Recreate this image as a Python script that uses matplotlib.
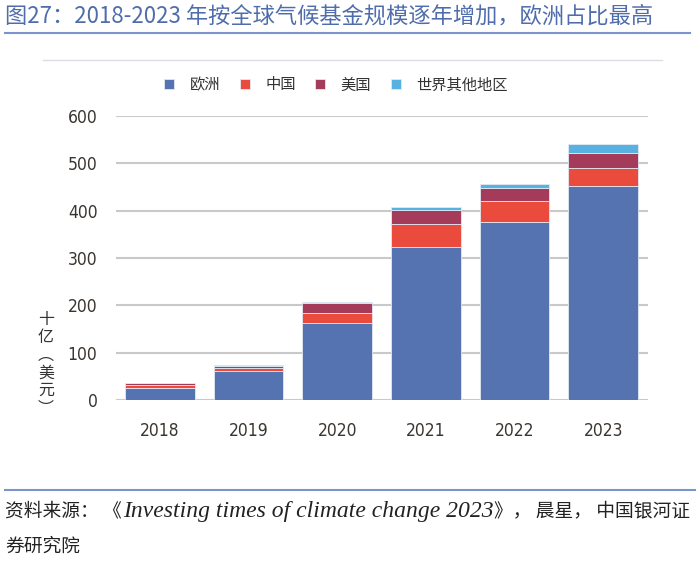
import matplotlib
matplotlib.use("Agg")
import matplotlib.pyplot as plt
import numpy as np
from matplotlib.lines import Line2D

plt.rcParams['font.family'] = ['Noto Sans CJK SC', 'DejaVu Sans']

years = ['2018', '2019', '2020', '2021', '2022', '2023']
europe = [26, 61, 163, 323, 376, 452]
china = [6, 6, 20, 48, 45, 39]
usa = [3, 5, 21, 31, 27, 31]
rest = [1, 2, 3, 5, 9, 19]
series_names = ['欧洲', '中国', '美国', '世界其他地区']
colors = ['#5673b1', '#ea4b3c', '#a43b5b', '#57b1e1']

fig = plt.figure(figsize=(7, 5.61), dpi=100)
ax = fig.add_axes([0.165, 0.287, 0.76, 0.506])

x = np.arange(len(years))
bottom = np.zeros(len(years))
for vals, name, c in zip([europe, china, usa, rest], series_names, colors):
    ax.bar(x, vals, width=0.785, bottom=bottom, color=c, label=name,
           edgecolor='#e3e8f2', linewidth=0.6, zorder=3)
    bottom += np.array(vals)

ax.set_xlim(-0.5, 5.5)
ax.set_ylim(0, 600)
ax.set_yticks(range(0, 601, 100))
ax.set_xticks(x)
ax.set_xticklabels(years)
ax.grid(axis='y', color='#c9c9c9', linewidth=1.5, zorder=0)
for s in ax.spines.values():
    s.set_visible(False)
ax.tick_params(length=0, colors='#3a3530', labelsize=12.5, pad=13)
ax.tick_params(axis='x', pad=16)
for lab in ax.get_xticklabels() + ax.get_yticklabels():
    lab.set_family('DejaVu Sans')
    lab.set_stretch('condensed')

# vertical y label
fig.text(46 / 700, 1 - 364 / 561, '十\n亿\n︵\n美\n元\n︶', ha='center', va='center',
         fontsize=11.5, color='#333333', linespacing=1.05)

fig.legend(loc='center', bbox_to_anchor=(336 / 700, 1 - 85 / 561), ncol=4, frameon=False,
           handlelength=0.65, handleheight=0.65, handletextpad=1.0, columnspacing=1.3,
           fontsize=11, labelcolor='#333333')

# title and decorative lines
fig.text(5 / 700, 1 - 16 / 561, '图27：2018-2023 年按全球气候基金规模逐年增加，欧洲占比最高',
         ha='left', va='center', fontsize=16, color='#4f6dac')
fig.add_artist(Line2D([5 / 700, 690 / 700], [1 - 33 / 561] * 2, color='#7b95cc', lw=1.5))
fig.add_artist(Line2D([43 / 700, 662 / 700], [1 - 60 / 561] * 2, color='#dcdde2', lw=1.0))
fig.add_artist(Line2D([5 / 700, 695 / 700], [1 - 490 / 561] * 2, color='#7b95cc', lw=1.5))

# source note, pieces chained left to right
cjk = dict(fontsize=13.5, color='#222222', family=['Noto Sans CJK SC', 'DejaVu Sans'])
latin = dict(fontsize=17, color='#222222', style='italic',
             family=['Liberation Serif', 'Noto Sans CJK SC'])
pieces = [('资料来源： 《', cjk), ('Investing times of climate change 2023', latin),
          ('》， 晨星， 中国银河证', cjk)]
renderer = fig.canvas.get_renderer()
xpos = 5
for txt, kw in pieces:
    t = fig.text(xpos / 700, 1 - 511 / 561, txt, ha='left', va='center', **kw)
    xpos = t.get_window_extent(renderer).x1 + 1
fig.text(5 / 700, 1 - 546 / 561, '券研究院', ha='left', va='center', **cjk)

fig.savefig('out.png', dpi=100)
